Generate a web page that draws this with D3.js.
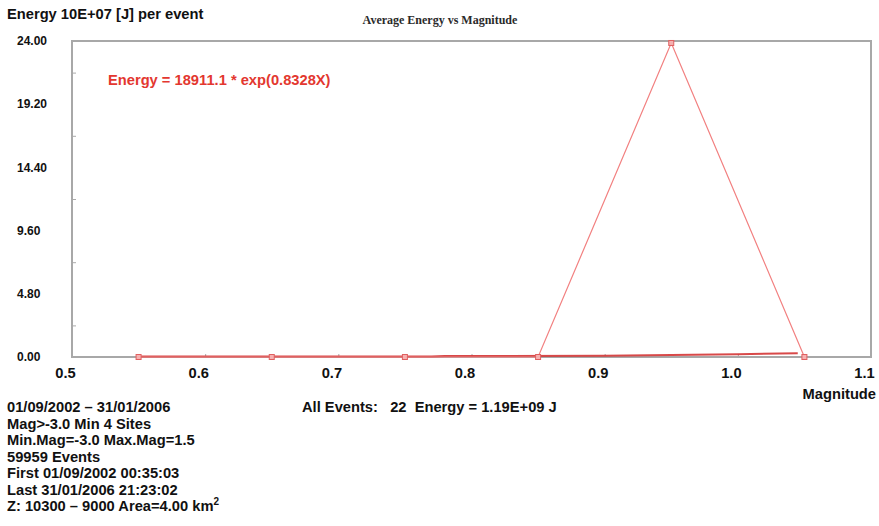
<!DOCTYPE html>
<html>
<head>
<meta charset="utf-8">
<script src="https://cdn.jsdelivr.net/npm/d3@7"></script>
<style>
  html, body { margin: 0; padding: 0; background: #fff; }
  svg { display: block; }
  text { font-family: "Liberation Sans", Arial, sans-serif; font-weight: bold; fill: #111; }
</style>
</head>
<body>
<svg id="chart" width="879" height="526"></svg>
<script>
// Average energy per event (units of 10E+07 J) by magnitude bin
const magnitudes = [0.55, 0.65, 0.75, 0.85, 0.95, 1.05];
const avgEnergy = [0.0, 0.0, 0.0, 0.0, 23.85, 0.0];

// Exponential fit curve, sampled as drawn
const fitMag = [0.55, 0.77, 0.78, 0.90, 0.95, 1.00, 1.045];
const fitEnergy = [0.03, 0.03, 0.07, 0.10, 0.15, 0.21, 0.28];

const xTicks = [0.5, 0.6, 0.7, 0.8, 0.9, 1.0, 1.1];
const yTicks = [0, 4.8, 9.6, 14.4, 19.2, 24];
const yMinorTicks = [2.4, 7.2, 12, 16.8, 21.6];

const chartTitle = "Average Energy vs Magnitude";
const yTitle = "Energy 10E+07 [J] per event";
const xTitle = "Magnitude";
const fitLabel = "Energy = 18911.1 * exp(0.8328X)";
const summaryLine = "All Events:   22  Energy = 1.19E+09 J";
const infoLines = [
  "01/09/2002 \u2013 31/01/2006",
  "Mag>-3.0 Min 4 Sites",
  "Min.Mag=-3.0 Max.Mag=1.5",
  "59959 Events",
  "First 01/09/2002 00:35:03",
  "Last 31/01/2006 21:23:02",
  "Z: 10300 \u2013 9000 Area=4.00 km"
];

const svg = d3.select("#chart");
const plot = { left: 72, right: 871, top: 41, bottom: 357 };

const x = d3.scaleLinear().domain([0.5, 1.1]).range([plot.left, plot.right]);
const y = d3.scaleLinear().domain([0, 24]).range([plot.bottom, plot.top]);

// Title
svg.append("text")
  .attr("x", 440).attr("y", 24)
  .attr("text-anchor", "middle")
  .style("font-family", "'Liberation Serif', 'Times New Roman', serif")
  .style("font-size", "12px")
  .style("fill", "#2a2a2a")
  .text(chartTitle);

// Y axis title
svg.append("text")
  .attr("x", 7).attr("y", 19)
  .style("font-size", "14.7px")
  .text(yTitle);

// Plot frame
svg.append("rect")
  .attr("x", plot.left).attr("y", plot.top)
  .attr("width", plot.right - plot.left).attr("height", plot.bottom - plot.top)
  .attr("fill", "#fff")
  .attr("stroke", "#a8a8a8")
  .attr("stroke-width", 2);

// Y axis: labels on the left, short inward minor ticks
const yAxis = d3.axisLeft(y).tickValues(yTicks).tickFormat(d3.format(".2f")).tickSize(0).tickPadding(0);
const yg = svg.append("g").attr("transform", `translate(${plot.left},0)`).call(yAxis);
yg.select(".domain").remove();
yg.selectAll("text")
  .attr("x", 17 - plot.left)
  .attr("text-anchor", "start")
  .attr("dy", "0.3em")
  .style("font-size", "12px")
  .style("fill", "#111");

const yMinor = d3.axisRight(y).tickValues(yMinorTicks).tickSize(3).tickFormat("");
const ymg = svg.append("g").attr("transform", `translate(${plot.left + 1},0)`).call(yMinor);
ymg.select(".domain").remove();
ymg.selectAll("line").attr("stroke", "#aaa");

// X axis: labels below (drawn slightly left of the tick), short inward ticks
const xAxis = d3.axisBottom(x).tickValues(xTicks).tickFormat(d3.format(".1f")).tickSize(0).tickPadding(0);
const xg = svg.append("g").attr("transform", `translate(0,${plot.bottom})`).call(xAxis);
xg.select(".domain").remove();
xg.selectAll("text")
  .attr("y", 21)
  .attr("dy", 0)
  .attr("dx", -7)
  .style("font-size", "14.7px")
  .style("fill", "#111");

const xMinor = d3.axisTop(x).tickValues(xTicks.slice(1, -1)).tickSize(2).tickFormat("");
const xmg = svg.append("g").attr("transform", `translate(0,${plot.bottom - 1})`).call(xMinor);
xmg.select(".domain").remove();
xmg.selectAll("line").attr("stroke", "#aaa");

// X axis title
svg.append("text")
  .attr("x", 876).attr("y", 399)
  .attr("text-anchor", "end")
  .style("font-size", "14.7px")
  .text(xTitle);

// Fit curve
const fitPts = fitMag.map((m, i) => [m, fitEnergy[i]]);
svg.append("path")
  .datum(fitPts)
  .attr("fill", "none")
  .attr("stroke", "#d43535")
  .attr("stroke-width", 2)
  .attr("stroke-opacity", 0.9)
  .attr("d", d3.line().x(d => x(d[0])).y(d => y(d[1])));

// Average energy line with square markers
const pts = magnitudes.map((m, i) => [m, avgEnergy[i]]);
svg.append("path")
  .datum(pts)
  .attr("fill", "none")
  .attr("stroke", "#f28080")
  .attr("stroke-width", 1.2)
  .attr("d", d3.line().x(d => x(d[0])).y(d => y(d[1])));

svg.selectAll("rect.marker")
  .data(pts)
  .join("rect")
  .attr("class", "marker")
  .attr("x", d => x(d[0]) - 2.5)
  .attr("y", d => y(d[1]) - 2.5)
  .attr("width", 5).attr("height", 5)
  .attr("fill", "#f6b0b0")
  .attr("stroke", "#e06060")
  .attr("stroke-width", 1);

// Fit equation
svg.append("text")
  .attr("x", 108).attr("y", 85)
  .style("font-size", "14.7px")
  .style("fill", "#e3372f")
  .text(fitLabel);

// Summary and info block
svg.append("text")
  .attr("x", 302).attr("y", 412)
  .style("font-size", "14.7px")
  .style("white-space", "pre")
  .attr("xml:space", "preserve")
  .text(summaryLine);

const info = svg.append("g");
infoLines.forEach((line, i) => {
  const t = info.append("text")
    .attr("x", 7).attr("y", 412 + i * 16.5)
    .style("font-size", "14.7px")
    .text(line);
  if (i === infoLines.length - 1) {
    t.append("tspan").attr("dy", -6).style("font-size", "10px").text("2");
  }
});
</script>
</body>
</html>
